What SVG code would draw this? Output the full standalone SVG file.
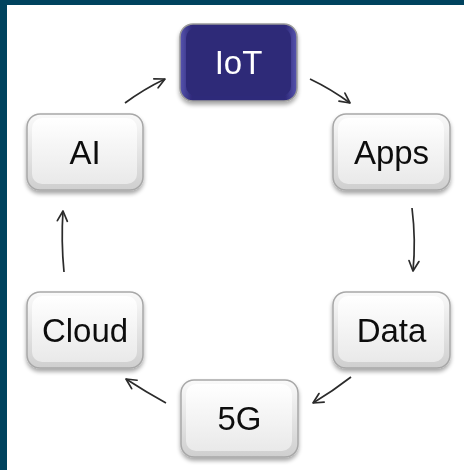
<svg xmlns="http://www.w3.org/2000/svg" width="464" height="470" viewBox="0 0 464 470">
  <defs>
    <linearGradient id="keyOuter" x1="0" y1="0" x2="0" y2="1">
      <stop offset="0" stop-color="#fafafa"/>
      <stop offset="1" stop-color="#cfcfcf"/>
    </linearGradient>
    <linearGradient id="keyInner" x1="0" y1="0" x2="0" y2="1">
      <stop offset="0" stop-color="#ffffff"/>
      <stop offset="1" stop-color="#e9e9e9"/>
    </linearGradient>
    <linearGradient id="navyOuter" x1="0" y1="0" x2="1" y2="0">
      <stop offset="0" stop-color="#5754b0"/>
      <stop offset="0.1" stop-color="#2f2b7a"/>
      <stop offset="0.9" stop-color="#2f2b7a"/>
      <stop offset="1" stop-color="#5754b0"/>
    </linearGradient>
    <filter id="shadow" x="-20%" y="-20%" width="140%" height="150%">
      <feGaussianBlur in="SourceAlpha" stdDeviation="2"/>
      <feOffset dx="0" dy="3" result="b"/>
      <feComponentTransfer><feFuncA type="linear" slope="0.35"/></feComponentTransfer>
      <feMerge><feMergeNode/><feMergeNode in="SourceGraphic"/></feMerge>
    </filter>
    <marker id="head" viewBox="0 0 14 14" refX="12" refY="7" markerWidth="14" markerHeight="14" markerUnits="userSpaceOnUse" orient="auto">
      <path d="M2,2 L12,7 L2,12" fill="none" stroke="#2b2b2b" stroke-width="1.7" stroke-linecap="round" stroke-linejoin="round"/>
    </marker>
  </defs>
  <style>
    .outer { fill: url(#keyOuter); stroke: #a8a8a8; stroke-width: 1.5; }
    .inner { fill: url(#keyInner); stroke: none; }
    .label { font-family: "Liberation Sans", Arial, sans-serif; font-size: 33px; fill: #111; text-anchor: middle; }
    .navy .outer { fill: url(#navyOuter); stroke: #9a9a9a; }
    .navy .inner { fill: #2e2a78; }
    .navy .label { fill: #ffffff; }
    .link { fill: none; stroke: #2b2b2b; stroke-width: 1.7; marker-end: url(#head); }
  </style>

  <!-- page frame -->
  <rect x="0" y="0" width="464" height="470" fill="#ffffff"/>
  <rect x="0" y="0" width="464" height="5" fill="#00435e"/>
  <rect x="0" y="0" width="7" height="470" fill="#00435e"/>

  <!-- connectors -->
  <g id="connectors">
    <path class="link" d="M125,103 Q144,89 165,79"/>
    <path class="link" d="M310,79 Q331,89 350,103"/>
    <path class="link" d="M412,208 Q416,240 413,271"/>
    <path class="link" d="M351,377 Q333,391 313,403"/>
    <path class="link" d="M166,403 Q146,392 126,379"/>
    <path class="link" d="M64,272 Q61,241 63,211"/>
  </g>

  <g id="node-iot" class="navy" filter="url(#shadow)">
    <rect class="outer" x="180" y="24" width="117" height="77" rx="13"/>
    <rect class="inner" x="186" y="28" width="105" height="68" rx="10"/>
    <text class="label" x="238.5" y="74">IoT</text>
  </g>

  <g id="node-apps" filter="url(#shadow)">
    <rect class="outer" x="333" y="114" width="117" height="76" rx="13"/>
    <rect class="inner" x="338" y="118" width="106" height="66" rx="10"/>
    <text class="label" x="391.5" y="164">Apps</text>
  </g>

  <g id="node-data" filter="url(#shadow)">
    <rect class="outer" x="333" y="292" width="117" height="76" rx="13"/>
    <rect class="inner" x="338" y="296" width="106" height="66" rx="10"/>
    <text class="label" x="391.5" y="342">Data</text>
  </g>

  <g id="node-5g" filter="url(#shadow)">
    <rect class="outer" x="181" y="380" width="117" height="77" rx="13"/>
    <rect class="inner" x="186" y="384" width="106" height="67" rx="10"/>
    <text class="label" x="239.5" y="430">5G</text>
  </g>

  <g id="node-cloud" filter="url(#shadow)">
    <rect class="outer" x="27" y="292" width="116" height="76" rx="13"/>
    <rect class="inner" x="32" y="296" width="105" height="66" rx="10"/>
    <text class="label" x="85" y="342">Cloud</text>
  </g>

  <g id="node-ai" filter="url(#shadow)">
    <rect class="outer" x="27" y="114" width="116" height="76" rx="13"/>
    <rect class="inner" x="32" y="118" width="105" height="66" rx="10"/>
    <text class="label" x="85" y="164">AI</text>
  </g>
</svg>
